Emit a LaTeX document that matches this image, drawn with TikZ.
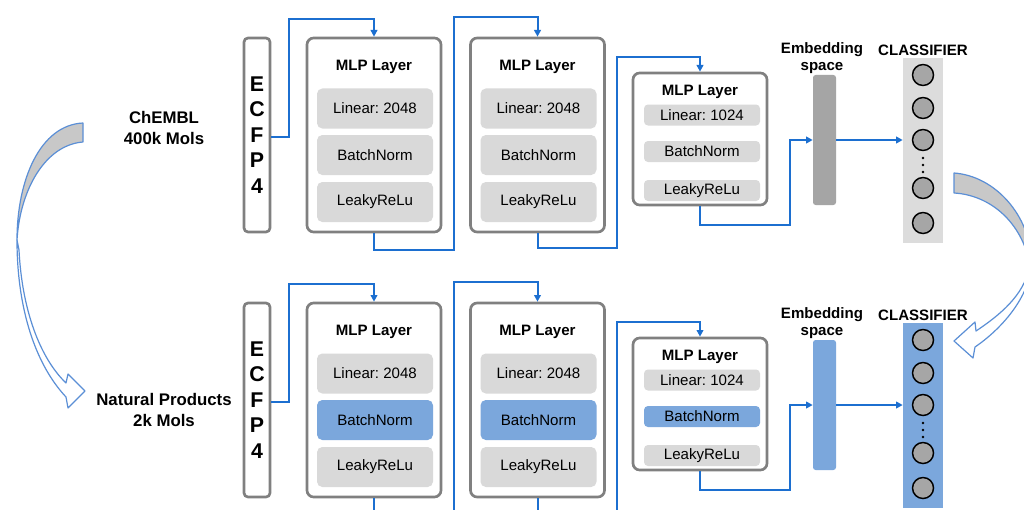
\documentclass[tikz,border=0pt]{standalone}
\usepackage{fontspec}
\setmainfont{Liberation Sans}
\usetikzlibrary{arrows.meta}
\frenchspacing
\definecolor{boxgray}{HTML}{808080}
\definecolor{innergray}{HTML}{D9D9D9}
\definecolor{colgray}{HTML}{DCDCDC}
\definecolor{hlblue}{HTML}{7BA7DC}
\definecolor{linkblue}{HTML}{1C6FD0}
\definecolor{embgray}{HTML}{A5A5A5}
\definecolor{circgray}{HTML}{A6A6A6}
\definecolor{curveblue}{HTML}{5B8FD6}
\definecolor{crescent}{HTML}{C8C8C8}
\begin{document}
\begin{tikzpicture}[x=0.75pt,y=-0.75pt,
  mlpbox/.style={draw=boxgray,line width=2pt,rounded corners=5pt,fill=white,minimum width=100.5pt,inner sep=0pt},
  ecfpbox/.style={draw=boxgray,line width=2pt,rounded corners=3pt,fill=white,minimum width=19.5pt,minimum height=145.5pt,inner sep=0pt,align=center,font=\bfseries\fontsize{16}{19.1}\selectfont},
  inbig/.style={fill=innergray,rounded corners=4pt,minimum width=87pt,minimum height=30pt,inner sep=0pt,font=\fontsize{11.3}{13}\selectfont},
  insmall/.style={fill=innergray,rounded corners=3pt,minimum width=87pt,minimum height=15.75pt,inner sep=0pt,font=\fontsize{11.3}{13}\selectfont},
  mlptitle/.style={inner sep=0pt,font=\bfseries\fontsize{11.3}{13}\selectfont},
  lbl/.style={inner sep=0pt,align=center,font=\bfseries\fontsize{11.3}{12.75}\selectfont},
  srclbl/.style={inner sep=0pt,align=center,font=\bfseries\fontsize{12.6}{15.75}\selectfont},
  embbar/.style={rounded corners=2pt,minimum width=17.25pt,minimum height=97.5pt,inner sep=0pt},
  colbox/.style={minimum width=30pt,minimum height=138.75pt,inner sep=0pt},
  neuron/.style={circle,draw=black,line width=1.1pt,fill=circgray,minimum size=15.75pt,inner sep=0pt},
  conn/.style={draw=linkblue,line width=1.5pt,-{Triangle[length=5pt,width=5pt]}},
  connplain/.style={draw=linkblue,line width=1.5pt},
  crescentfill/.style={fill=crescent,draw=curveblue,line width=0.9pt,line join=round},
  bandfill/.style={fill=white,draw=curveblue,line width=0.9pt,line join=round}
]
\useasboundingbox (0,0) rectangle (1024,510);
\clip (0,0) rectangle (1024,510);
\fill[white] (0,0) rectangle (1024,510);

% curved transfer arrows
\path[bandfill] (17,240) .. controls (17,310) and (36,365) .. (66,397) -- (68,408) -- (85,391) -- (68,374) -- (66,383) .. controls (40,358) and (22,310) .. (19,250) -- cycle;
\path[crescentfill] (83,123) .. controls (40,125) and (17,180) .. (17,240) .. controls (20,190) and (45,145) .. (83,142) -- cycle;
\path[bandfill] (1032,262) .. controls (1030,298) and (1000,330) .. (975,347) -- (973,358) -- (954,341) -- (975,322) -- (976,331) .. controls (1000,315) and (1024,295) .. (1029,268) -- cycle;
\path[crescentfill] (954,173) .. controls (995,176) and (1030,215) .. (1032,262) -- (1030,265) .. controls (1022,222) and (990,195) .. (954,193) -- cycle;

% source labels
\node[srclbl] (chembl) at (164,127.5) {ChEMBL\\400k Mols};
\node[srclbl] (natprod) at (164,409.5) {Natural Products\\2k Mols};

\foreach \r/\dy/\bn/\emc/\cc in {a/0/innergray/embgray/colgray, b/265/hlblue/hlblue/hlblue} {
  \node[ecfpbox] (ecfp\r) at (257,{135+\dy}) {E\\C\\F\\P\\4};
  % MLP 1
  \node[mlpbox,minimum height=145.5pt] (mlp1\r) at (374,{135+\dy}) {};
  \node[mlptitle] (t1\r) at (374,{67+\dy}) {MLP Layer};
  \node[inbig] (lin1\r) at (375,{108.5+\dy}) {Linear: 2048};
  \node[inbig,fill=\bn] (bn1\r) at (375,{155+\dy}) {BatchNorm};
  \node[inbig] (lr1\r) at (375,{202+\dy}) {LeakyReLu};
  % MLP 2
  \node[mlpbox,minimum height=145.5pt] (mlp2\r) at (537.5,{135+\dy}) {};
  \node[mlptitle] (t2\r) at (537.5,{67+\dy}) {MLP Layer};
  \node[inbig] (lin2\r) at (538.5,{108.5+\dy}) {Linear: 2048};
  \node[inbig,fill=\bn] (bn2\r) at (538.5,{155+\dy}) {BatchNorm};
  \node[inbig] (lr2\r) at (538.5,{202+\dy}) {LeakyReLu};
  % MLP 3
  \node[mlpbox,minimum height=99pt] (mlp3\r) at (700,{139+\dy}) {};
  \node[mlptitle] (t3\r) at (700,{92+\dy}) {MLP Layer};
  \node[insmall] (lin3\r) at (702,{115+\dy}) {Linear: 1024};
  \node[insmall,fill=\bn] (bn3\r) at (702,{151.5+\dy}) {BatchNorm};
  \node[insmall] (lr3\r) at (702,{190.5+\dy}) {LeakyReLu};
  % embedding
  \node[embbar,fill=\emc] (emb\r) at (824.5,{140+\dy}) {};
  \node[lbl] (embl\r) at (822,{58.5+\dy}) {Embedding\\space};
  % classifier
  \node[colbox,fill=\cc] (col\r) at (923,{150.5+\dy}) {};
  \node[lbl] (cl\r) at (923,{50+\dy}) {CLASSIFIER};
  \node[neuron] (n1\r) at (923,{75+\dy}) {};
  \node[neuron] (n2\r) at (923,{108+\dy}) {};
  \node[neuron] (n3\r) at (923,{140+\dy}) {};
  \node[neuron] (n4\r) at (923,{188+\dy}) {};
  \node[neuron] (n5\r) at (923,{223+\dy}) {};
  \fill[black] (923,{158+\dy}) circle (1.1pt) (923,{165+\dy}) circle (1.1pt) (923,{172+\dy}) circle (1.1pt);
}

% free ends at the lower edge
\coordinate (off1) at (374,514);
\coordinate (off2) at (454,514);
\coordinate (off3) at (537.5,514);
\coordinate (off4) at (617,514);

% top row connectors
\draw[conn] ([yshift=-1.5pt]ecfpa.east) -- (289,137) -- (289,19) -- (374,19) -- (mlp1a.north);
\draw[conn] (mlp1a.south) -- (374,250) -- (454,250) -- (454,17) -- (537.5,17) -- (mlp2a.north);
\draw[conn] (mlp2a.south) -- (537.5,248) -- (617,248) -- (617,57) -- (700,57) -- (mlp3a.north);
\draw[conn] (mlp3a.south) -- (700,225) -- (790,225) -- (790,140) -- (emba.west);
\draw[conn] (emba.east) -- (emba.east -| cola.west);

% bottom row connectors
\draw[conn] ([yshift=-1.5pt]ecfpb.east) -- (289,402) -- (289,284) -- (374,284) -- (mlp1b.north);
\draw[connplain] (mlp1b.south) -- (off1);
\draw[conn] (off2) -- (454,282) -- (537.5,282) -- (mlp2b.north);
\draw[connplain] (mlp2b.south) -- (off3);
\draw[conn] (off4) -- (617,322) -- (700,322) -- (mlp3b.north);
\draw[conn] (mlp3b.south) -- (700,490) -- (790,490) -- (790,405) -- (embb.west);
\draw[conn] (embb.east) -- (embb.east -| colb.west);
\end{tikzpicture}
\end{document}
